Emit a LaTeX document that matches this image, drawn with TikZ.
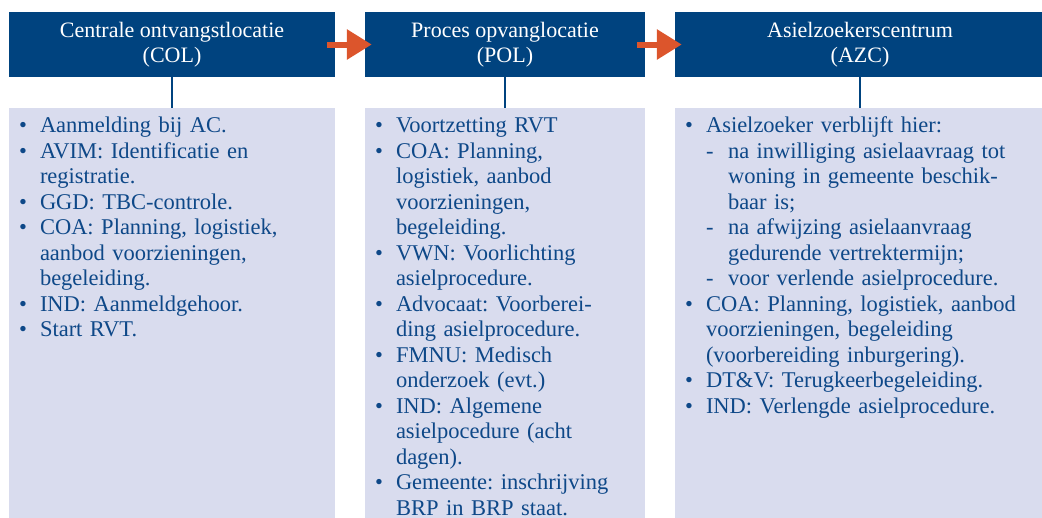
\documentclass[tikz,border=0pt]{standalone}
\usepackage{fontspec}
\setmainfont{Liberation Serif}
\usepackage{enumitem}
\usetikzlibrary{arrows.meta}
\definecolor{headblue}{RGB}{0,67,127}
\definecolor{panelblue}{RGB}{217,220,238}
\definecolor{textblue}{RGB}{14,72,136}
\definecolor{arrowred}{RGB}{220,85,44}
\setlist[itemize,1]{label=\textbullet,leftmargin=20pt,labelsep=13pt,topsep=0pt,itemsep=0pt,parsep=0pt,partopsep=0pt}
\setlist[itemize,2]{label=-,leftmargin=22pt,labelsep=14.5pt,topsep=0pt,itemsep=0pt,parsep=0pt,partopsep=0pt}
\frenchspacing

\begin{document}
\begin{tikzpicture}[x=1pt,y=-1pt,
    head/.style={fill=headblue,text=white,align=center,minimum height=65pt,inner sep=0pt,font=\fontsize{22}{25.5}\selectfont},
    panel/.style={fill=panelblue,anchor=north,minimum height=430pt,inner sep=0pt},
    listtext/.style={anchor=north west,inner sep=0pt,text=textblue,align=left,font=\fontsize{22.5}{25.5}\selectfont},
    link/.style={draw=headblue,line width=2pt},
    flow/.style={draw=arrowred,line width=6pt,-{Triangle[length=25pt,width=29pt]}}]
\useasboundingbox (0,0) rectangle (1042,517);
\clip (0,0) rectangle (1042,517);

\edef\top{108} 

% headers
\node[head,minimum width=326pt] (col) at (172,44.5) {Centrale ontvangstlocatie\\(COL)};
\node[head,minimum width=280pt] (pol) at (505,44.5) {Proces opvanglocatie\\(POL)};
\node[head,minimum width=370pt] (azc) at (860,44.5) {Asielzoekerscentrum\\(AZC)};

% panels
\node[panel,minimum width=326pt] (colbody) at (172,\top) {};
\node[panel,minimum width=280pt] (polbody) at (505,\top) {};
\node[panel,minimum width=370pt] (azcbody) at (860,\top) {};

\draw[link] (col.south) -- (colbody.north);
\draw[link] (pol.south) -- (polbody.north);
\draw[link] (azc.south) -- (azcbody.north);

\draw[flow] ([xshift=-8pt]col.east) -- ([xshift=7pt]pol.west);
\draw[flow] ([xshift=-8pt]pol.east) -- ([xshift=7pt]azc.west);

% lists
\node[listtext,text width=300pt] (coltext) at ([xshift=11pt,yshift=1pt]colbody.north west) {%
\begin{itemize}
\item Aanmelding bij AC.
\item AVIM: Identificatie en\newline registratie.
\item GGD: TBC-controle.
\item COA: Planning, logistiek,\newline aanbod voorzieningen,\newline begeleiding.
\item IND: Aanmeldgehoor.
\item Start RVT.
\end{itemize}};

\node[listtext,text width=265pt] (poltext) at ([xshift=11pt,yshift=1pt]polbody.north west) {%
\begin{itemize}
\item Voortzetting RVT
\item COA: Planning,\newline logistiek, aanbod\newline voorzieningen,\newline begeleiding.
\item VWN: Voorlichting\newline asielprocedure.
\item Advocaat: Voorberei-\newline ding asielprocedure.
\item FMNU: Medisch\newline onderzoek (evt.)
\item IND: Algemene\newline asielpocedure (acht\newline dagen).
\item Gemeente: inschrijving\newline BRP in BRP staat.
\end{itemize}};

\node[listtext,text width=355pt] (azctext) at ([xshift=11pt,yshift=1pt]azcbody.north west) {%
\begin{itemize}
\item Asielzoeker verblijft hier:
  \begin{itemize}
  \item na inwilliging asielaavraag tot\newline woning in gemeente beschik-\newline baar is;
  \item na afwijzing asielaanvraag\newline gedurende vertrektermijn;
  \item voor verlende asielprocedure.
  \end{itemize}
\item COA: Planning, logistiek, aanbod\newline voorzieningen, begeleiding\newline (voorbereiding inburgering).
\item DT\&V: Terugkeerbegeleiding.
\item IND: Verlengde asielprocedure.
\end{itemize}};
\end{tikzpicture}
\end{document}
